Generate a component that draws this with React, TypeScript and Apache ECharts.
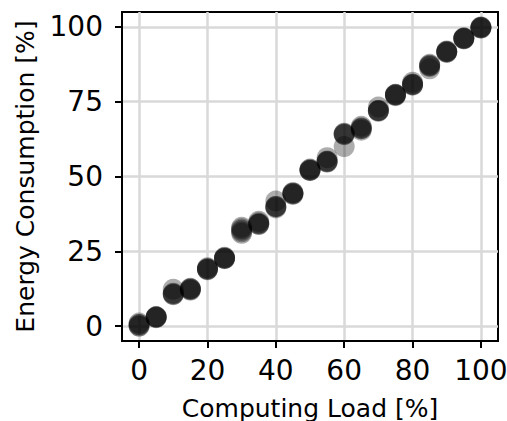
import React, { useEffect, useRef } from "react";
import * as echarts from "echarts";

const loads = [0, 5, 10, 15, 20, 25, 30, 35, 40, 45, 50, 55, 60, 65, 70, 75, 80, 85, 90, 95, 100];
const run1 = [0, 3, 10.5, 12.2, 19, 22.6, 31, 34, 39.8, 44.2, 52, 55, 64, 66, 72, 77.3, 80.8, 87, 91.7, 96.2, 99.8];
const run2 = [0.5, 3, 10.8, 12.5, 19.2, 22.8, 32, 34.2, 40, 44.5, 52.3, 54.8, 64.3, 66.3, 72.1, 77, 80.5, 87.2, 91.5, 96, 100];
const run3 = [0, 2.8, 11, 12, 19.5, 22.5, 33, 34.5, 39.5, 44, 52.1, 55.2, 60, 65.5, 73.2, 77.5, 81.5, 86, 92, 96.4, 99.6];
const run4 = [1, 3.2, 12.3, 12.3, 18.8, 23, 31.5, 35, 41.8, 44.6, 52.5, 56.3, 64.5, 66.8, 72, 77.2, 80.7, 87.5, 91.8, 96.2, 99.9];
const run5 = [0.5, 3, 10.6, 12.6, 19, 22.7, 32.5, 34, 40, 44.3, 52, 55, 64.1, 66, 71.8, 77.4, 80.9, 86.8, 91.6, 96.1, 99.7];
const runs = [run1, run2, run3, run4, run5];

const xTicks = [0, 20, 40, 60, 80, 100];
const yTicks = [0, 25, 50, 75, 100];

const FONT = "DejaVu Sans";

export default function App() {
  const ref = useRef<HTMLDivElement>(null);
  useEffect(() => {
    if (!ref.current) return;
    const chart = echarts.init(ref.current, undefined, { renderer: "svg" });
    const axisCommon = {
      type: "value" as const,
      min: -5,
      max: 105,
      nameLocation: "middle" as const,
      nameTextStyle: { fontFamily: FONT, fontSize: 25, color: "#000" },
      axisLine: { show: true, onZero: false, lineStyle: { color: "#000", width: 2 } },
      axisTick: { show: true, length: 7, lineStyle: { color: "#000", width: 2 } },
      splitLine: { show: false },
    };
    chart.setOption({
      animation: false,
      grid: {
        left: 122,
        top: 12,
        right: 9,
        bottom: 80,
        show: true,
        borderColor: "#000",
        borderWidth: 2,
        backgroundColor: "#fff",
        containLabel: false,
        outerBoundsMode: "none",
      },
      xAxis: {
        ...axisCommon,
        name: "Computing Load [%]",
        nameGap: 55,
        interval: 5,
        axisLabel: {
          fontFamily: FONT,
          fontSize: 28,
          color: "#000",
          margin: 15,
          formatter: (v: number) => (xTicks.includes(v) ? String(v) : ""),
        },
        axisTick: { ...axisCommon.axisTick, customValues: xTicks },
      },
      yAxis: {
        ...axisCommon,
        name: "Energy Consumption [%]",
        nameGap: 84,
        interval: 5,
        axisLabel: {
          fontFamily: FONT,
          fontSize: 28,
          color: "#000",
          margin: 19,
          formatter: (v: number) => (yTicks.includes(v) ? String(v) : ""),
        },
        axisTick: { ...axisCommon.axisTick, customValues: yTicks },
      },
      series: [
        {
          type: "line",
          data: xTicks.map((v) => [v, -5]),
          symbol: "none",
          lineStyle: { width: 0 },
          silent: true,
          z: 0,
          markLine: {
            silent: true,
            z: 0,
            symbol: "none",
            label: { show: false },
            lineStyle: { color: "#d9d9d9", width: 2.5, type: "solid" },
            data: [
              ...xTicks.map((v) => ({ xAxis: v })),
              ...yTicks.map((v) => ({ yAxis: v })),
            ],
          },
        },
        ...runs.map((r) => ({
          type: "scatter",
          data: loads.map((x, i) => [x, r[i]]),
          symbolSize: 21,
          itemStyle: { color: "rgba(0,0,0,0.4)" },
          z: 3,
        })),
      ],
    });
    return () => chart.dispose();
  }, []);
  return <div ref={ref} style={{ width: 507, height: 421, position: "absolute", left: 0, top: 0 }} />;
}
